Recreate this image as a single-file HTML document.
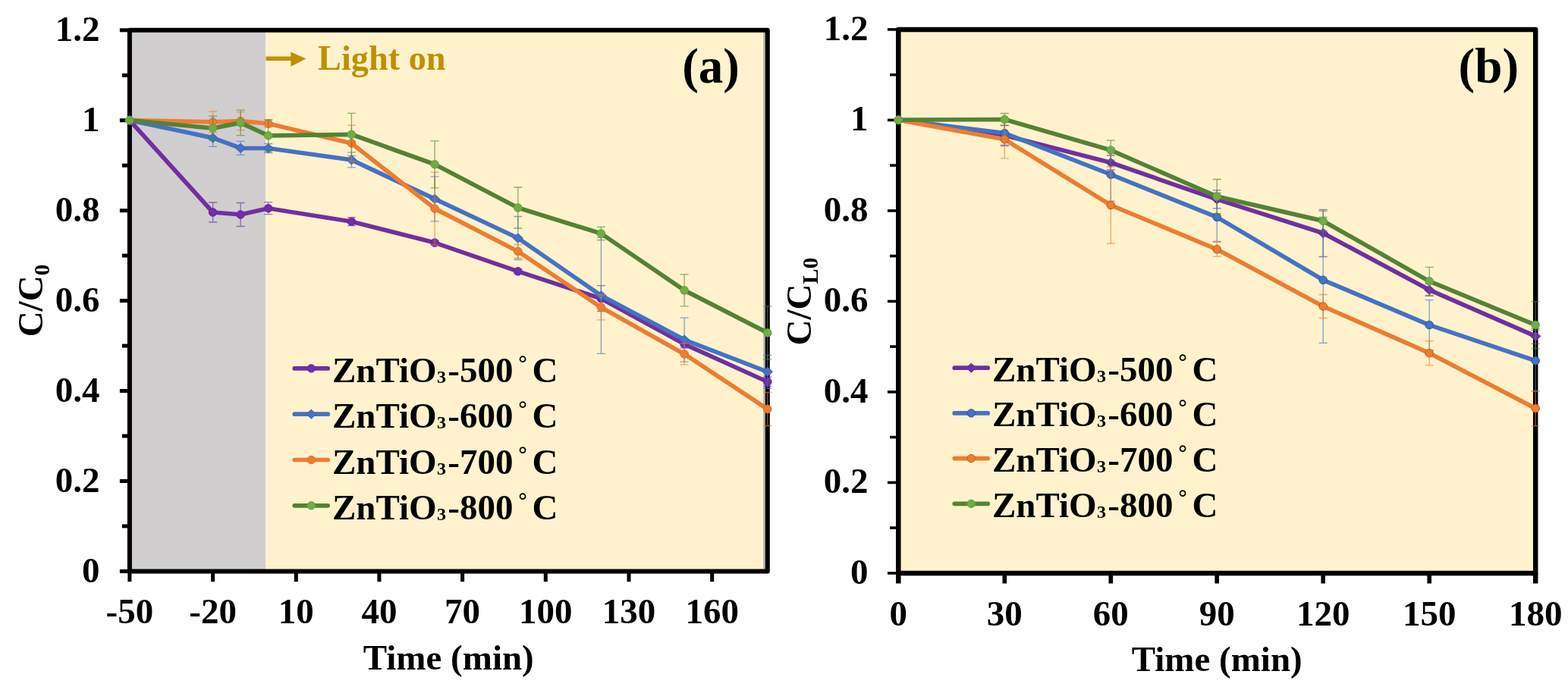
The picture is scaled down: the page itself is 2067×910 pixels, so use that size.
<!DOCTYPE html>
<html><head><meta charset="utf-8"><title>ZnTiO3 photocatalytic degradation</title>
<style>html,body{margin:0;padding:0;background:#fff;}body{width:2067px;height:910px;overflow:hidden;}svg{display:block;}text{font-family:"Liberation Serif", "Times New Roman", serif;font-weight:bold;}</style></head><body>
<svg width="2067" height="910" viewBox="0 0 2067 910">
<rect x="0" y="0" width="2067" height="910" fill="#ffffff"/>
<rect x="170.9" y="39.8" width="179.3" height="713.6" fill="#D0CECE"/>
<rect x="350.2" y="39.8" width="661.6" height="713.6" fill="#FFF2CC"/>
<rect x="1006.3" y="41.8" width="3.2" height="709.6" fill="#b2b2b2"/>
<path d="M350.5 77.3H386" stroke="#BF9000" stroke-width="5.6" fill="none"/>
<path d="M383.4 68.6L403.5 77.6L383.4 87.7Z" fill="#BF9000"/>
<text x="419" y="91.5" font-size="46.3" fill="#BF9000">Light on</text>
<text x="899.2" y="108.9" font-size="65" fill="#000">(a)</text>
<line x1="157.9" y1="753.4" x2="170.9" y2="753.4" stroke="#000" stroke-width="5.0"/>
<line x1="160.9" y1="693.9" x2="170.9" y2="693.9" stroke="#000" stroke-width="5.0"/>
<line x1="157.9" y1="634.5" x2="170.9" y2="634.5" stroke="#000" stroke-width="5.0"/>
<line x1="160.9" y1="575.0" x2="170.9" y2="575.0" stroke="#000" stroke-width="5.0"/>
<line x1="157.9" y1="515.5" x2="170.9" y2="515.5" stroke="#000" stroke-width="5.0"/>
<line x1="160.9" y1="456.1" x2="170.9" y2="456.1" stroke="#000" stroke-width="5.0"/>
<line x1="157.9" y1="396.6" x2="170.9" y2="396.6" stroke="#000" stroke-width="5.0"/>
<line x1="160.9" y1="337.1" x2="170.9" y2="337.1" stroke="#000" stroke-width="5.0"/>
<line x1="157.9" y1="277.7" x2="170.9" y2="277.7" stroke="#000" stroke-width="5.0"/>
<line x1="160.9" y1="218.2" x2="170.9" y2="218.2" stroke="#000" stroke-width="5.0"/>
<line x1="157.9" y1="158.7" x2="170.9" y2="158.7" stroke="#000" stroke-width="5.0"/>
<line x1="160.9" y1="99.3" x2="170.9" y2="99.3" stroke="#000" stroke-width="5.0"/>
<line x1="157.9" y1="39.8" x2="170.9" y2="39.8" stroke="#000" stroke-width="5.0"/>
<line x1="170.9" y1="753.4" x2="170.9" y2="767.2" stroke="#000" stroke-width="5.0"/>
<line x1="280.6" y1="753.4" x2="280.6" y2="767.2" stroke="#000" stroke-width="5.0"/>
<line x1="390.3" y1="753.4" x2="390.3" y2="767.2" stroke="#000" stroke-width="5.0"/>
<line x1="499.9" y1="753.4" x2="499.9" y2="767.2" stroke="#000" stroke-width="5.0"/>
<line x1="609.6" y1="753.4" x2="609.6" y2="767.2" stroke="#000" stroke-width="5.0"/>
<line x1="719.3" y1="753.4" x2="719.3" y2="767.2" stroke="#000" stroke-width="5.0"/>
<line x1="829.0" y1="753.4" x2="829.0" y2="767.2" stroke="#000" stroke-width="5.0"/>
<line x1="938.7" y1="753.4" x2="938.7" y2="767.2" stroke="#000" stroke-width="5.0"/>
<path d="M170.9 755.9V39.8H1011.8V753.4H168.4" fill="none" stroke="#000" stroke-width="6.0" stroke-linejoin="round"/>
<path d="M280.6 267.0V293.0M275.1 267.0h11M275.1 293.0h11" stroke="#7030A0" stroke-width="1.3" opacity="0.65" fill="none"/>
<path d="M317.1 267.5V298.5M311.6 267.5h11M311.6 298.5h11" stroke="#7030A0" stroke-width="1.3" opacity="0.65" fill="none"/>
<path d="M353.7 266.7V282.7M348.2 266.7h11M348.2 282.7h11" stroke="#7030A0" stroke-width="1.3" opacity="0.65" fill="none"/>
<path d="M463.4 286.7V297.7M457.9 286.7h11M457.9 297.7h11" stroke="#7030A0" stroke-width="1.3" opacity="0.65" fill="none"/>
<path d="M573.1 317.1V323.1M567.6 317.1h11M567.6 323.1h11" stroke="#7030A0" stroke-width="1.3" opacity="0.65" fill="none"/>
<path d="M682.8 354.9V360.9M677.3 354.9h11M677.3 360.9h11" stroke="#7030A0" stroke-width="1.3" opacity="0.65" fill="none"/>
<path d="M792.4 376.7V410.7M786.9 376.7h11M786.9 410.7h11" stroke="#7030A0" stroke-width="1.3" opacity="0.65" fill="none"/>
<path d="M902.1 448.8V458.8M896.6 448.8h11M896.6 458.8h11" stroke="#7030A0" stroke-width="1.3" opacity="0.65" fill="none"/>
<path d="M1011.8 497.5V509.5M1006.3 497.5h11M1006.3 509.5h11" stroke="#7030A0" stroke-width="1.3" opacity="0.65" fill="none"/>
<polyline points="170.9,158.6 280.6,280.0 317.1,283.0 353.7,274.7 463.4,292.2 573.1,320.1 682.8,357.9 792.4,393.7 902.1,453.8 1011.8,503.5" fill="none" stroke="#7030A0" stroke-width="5.7" stroke-linejoin="round" stroke-linecap="round"/>
<circle cx="170.9" cy="158.6" r="5.3" fill="#7030A0" stroke="#6a1fc8" stroke-width="1"/>
<circle cx="280.6" cy="280.0" r="5.3" fill="#7030A0" stroke="#6a1fc8" stroke-width="1"/>
<circle cx="317.1" cy="283.0" r="5.3" fill="#7030A0" stroke="#6a1fc8" stroke-width="1"/>
<circle cx="353.7" cy="274.7" r="5.3" fill="#7030A0" stroke="#6a1fc8" stroke-width="1"/>
<circle cx="463.4" cy="292.2" r="5.3" fill="#7030A0" stroke="#6a1fc8" stroke-width="1"/>
<circle cx="573.1" cy="320.1" r="5.3" fill="#7030A0" stroke="#6a1fc8" stroke-width="1"/>
<circle cx="682.8" cy="357.9" r="5.3" fill="#7030A0" stroke="#6a1fc8" stroke-width="1"/>
<circle cx="792.4" cy="393.7" r="5.3" fill="#7030A0" stroke="#6a1fc8" stroke-width="1"/>
<circle cx="902.1" cy="453.8" r="5.3" fill="#7030A0" stroke="#6a1fc8" stroke-width="1"/>
<circle cx="1011.8" cy="503.5" r="5.3" fill="#7030A0" stroke="#6a1fc8" stroke-width="1"/>
<path d="M280.6 170.4V193.4M275.1 170.4h11M275.1 193.4h11" stroke="#4472C4" stroke-width="1.3" opacity="0.65" fill="none"/>
<path d="M317.1 186.3V204.3M311.6 186.3h11M311.6 204.3h11" stroke="#4472C4" stroke-width="1.3" opacity="0.65" fill="none"/>
<path d="M353.7 189.5V201.5M348.2 189.5h11M348.2 201.5h11" stroke="#4472C4" stroke-width="1.3" opacity="0.65" fill="none"/>
<path d="M463.4 200.9V220.9M457.9 200.9h11M457.9 220.9h11" stroke="#4472C4" stroke-width="1.3" opacity="0.65" fill="none"/>
<path d="M573.1 232.8V291.8M567.6 232.8h11M567.6 291.8h11" stroke="#4472C4" stroke-width="1.3" opacity="0.65" fill="none"/>
<path d="M682.8 285.5V342.5M677.3 285.5h11M677.3 342.5h11" stroke="#4472C4" stroke-width="1.3" opacity="0.65" fill="none"/>
<path d="M792.4 313.3V466.3M786.9 313.3h11M786.9 466.3h11" stroke="#4472C4" stroke-width="1.3" opacity="0.65" fill="none"/>
<path d="M902.1 419.1V477.1M896.6 419.1h11M896.6 477.1h11" stroke="#4472C4" stroke-width="1.3" opacity="0.65" fill="none"/>
<path d="M1011.8 468.3V512.3M1006.3 468.3h11M1006.3 512.3h11" stroke="#4472C4" stroke-width="1.3" opacity="0.65" fill="none"/>
<polyline points="170.9,158.6 280.6,181.9 317.1,195.3 353.7,195.5 463.4,210.9 573.1,262.3 682.8,314.0 792.4,389.8 902.1,448.1 1011.8,490.3" fill="none" stroke="#4472C4" stroke-width="5.7" stroke-linejoin="round" stroke-linecap="round"/>
<path d="M164.3 158.6L170.9 152.5L177.5 158.6L170.9 164.7Z" fill="#4472C4" stroke="#3560b0" stroke-width="1"/>
<path d="M274.0 181.9L280.6 175.8L287.2 181.9L280.6 188.0Z" fill="#4472C4" stroke="#3560b0" stroke-width="1"/>
<path d="M310.5 195.3L317.1 189.2L323.8 195.3L317.1 201.4Z" fill="#4472C4" stroke="#3560b0" stroke-width="1"/>
<path d="M347.1 195.5L353.7 189.4L360.3 195.5L353.7 201.6Z" fill="#4472C4" stroke="#3560b0" stroke-width="1"/>
<path d="M456.8 210.9L463.4 204.8L470.0 210.9L463.4 217.0Z" fill="#4472C4" stroke="#3560b0" stroke-width="1"/>
<path d="M566.4 262.3L573.1 256.2L579.7 262.3L573.1 268.4Z" fill="#4472C4" stroke="#3560b0" stroke-width="1"/>
<path d="M676.1 314.0L682.8 307.9L689.4 314.0L682.8 320.1Z" fill="#4472C4" stroke="#3560b0" stroke-width="1"/>
<path d="M785.8 389.8L792.4 383.7L799.1 389.8L792.4 395.9Z" fill="#4472C4" stroke="#3560b0" stroke-width="1"/>
<path d="M895.5 448.1L902.1 442.0L908.7 448.1L902.1 454.2Z" fill="#4472C4" stroke="#3560b0" stroke-width="1"/>
<path d="M1005.2 490.3L1011.8 484.2L1018.4 490.3L1011.8 496.4Z" fill="#4472C4" stroke="#3560b0" stroke-width="1"/>
<path d="M280.6 146.8V174.8M275.1 146.8h11M275.1 174.8h11" stroke="#ED7D31" stroke-width="1.3" opacity="0.65" fill="none"/>
<path d="M317.1 147.7V171.7M311.6 147.7h11M311.6 171.7h11" stroke="#ED7D31" stroke-width="1.3" opacity="0.65" fill="none"/>
<path d="M353.7 158.0V168.0M348.2 158.0h11M348.2 168.0h11" stroke="#ED7D31" stroke-width="1.3" opacity="0.65" fill="none"/>
<path d="M463.4 165.2V212.6M457.9 165.2h11M457.9 212.6h11" stroke="#ED7D31" stroke-width="1.3" opacity="0.65" fill="none"/>
<path d="M573.1 227.1V323.1M567.6 227.1h11M567.6 323.1h11" stroke="#ED7D31" stroke-width="1.3" opacity="0.65" fill="none"/>
<path d="M682.8 322.5V340.5M677.3 322.5h11M677.3 340.5h11" stroke="#ED7D31" stroke-width="1.3" opacity="0.65" fill="none"/>
<path d="M792.4 388.8V421.8M786.9 388.8h11M786.9 421.8h11" stroke="#ED7D31" stroke-width="1.3" opacity="0.65" fill="none"/>
<path d="M902.1 452.9V480.9M896.6 452.9h11M896.6 480.9h11" stroke="#ED7D31" stroke-width="1.3" opacity="0.65" fill="none"/>
<path d="M1011.8 517.5V561.5M1006.3 517.5h11M1006.3 561.5h11" stroke="#ED7D31" stroke-width="1.3" opacity="0.65" fill="none"/>
<polyline points="170.9,158.6 280.6,160.8 317.1,159.7 353.7,163.0 463.4,188.9 573.1,275.1 682.8,331.5 792.4,405.3 902.1,466.9 1011.8,539.5" fill="none" stroke="#ED7D31" stroke-width="5.7" stroke-linejoin="round" stroke-linecap="round"/>
<circle cx="170.9" cy="158.6" r="5.3" fill="#ED7D31" stroke="#e07020" stroke-width="1"/>
<circle cx="280.6" cy="160.8" r="5.3" fill="#ED7D31" stroke="#e07020" stroke-width="1"/>
<circle cx="317.1" cy="159.7" r="5.3" fill="#ED7D31" stroke="#e07020" stroke-width="1"/>
<circle cx="353.7" cy="163.0" r="5.3" fill="#ED7D31" stroke="#e07020" stroke-width="1"/>
<circle cx="463.4" cy="188.9" r="5.3" fill="#ED7D31" stroke="#e07020" stroke-width="1"/>
<circle cx="573.1" cy="275.1" r="5.3" fill="#ED7D31" stroke="#e07020" stroke-width="1"/>
<circle cx="682.8" cy="331.5" r="5.3" fill="#ED7D31" stroke="#e07020" stroke-width="1"/>
<circle cx="792.4" cy="405.3" r="5.3" fill="#ED7D31" stroke="#e07020" stroke-width="1"/>
<circle cx="902.1" cy="466.9" r="5.3" fill="#ED7D31" stroke="#e07020" stroke-width="1"/>
<circle cx="1011.8" cy="539.5" r="5.3" fill="#ED7D31" stroke="#e07020" stroke-width="1"/>
<path d="M280.6 153.1V185.1M275.1 153.1h11M275.1 185.1h11" stroke="#548235" stroke-width="1.3" opacity="0.65" fill="none"/>
<path d="M317.1 145.2V178.6M311.6 145.2h11M311.6 178.6h11" stroke="#548235" stroke-width="1.3" opacity="0.65" fill="none"/>
<path d="M353.7 157.8V199.8M348.2 157.8h11M348.2 199.8h11" stroke="#548235" stroke-width="1.3" opacity="0.65" fill="none"/>
<path d="M463.4 149.3V205.3M457.9 149.3h11M457.9 205.3h11" stroke="#548235" stroke-width="1.3" opacity="0.65" fill="none"/>
<path d="M573.1 185.8V247.8M567.6 185.8h11M567.6 247.8h11" stroke="#548235" stroke-width="1.3" opacity="0.65" fill="none"/>
<path d="M682.8 247.0V301.0M677.3 247.0h11M677.3 301.0h11" stroke="#548235" stroke-width="1.3" opacity="0.65" fill="none"/>
<path d="M792.4 299.3V316.7M786.9 299.3h11M786.9 316.7h11" stroke="#548235" stroke-width="1.3" opacity="0.65" fill="none"/>
<path d="M902.1 361.9V403.9M896.6 361.9h11M896.6 403.9h11" stroke="#548235" stroke-width="1.3" opacity="0.65" fill="none"/>
<path d="M1011.8 403.9V473.9M1006.3 403.9h11M1006.3 473.9h11" stroke="#548235" stroke-width="1.3" opacity="0.65" fill="none"/>
<polyline points="170.9,158.6 280.6,169.1 317.1,161.9 353.7,178.8 463.4,177.3 573.1,216.8 682.8,274.0 792.4,308.0 902.1,382.9 1011.8,438.9" fill="none" stroke="#548235" stroke-width="5.7" stroke-linejoin="round" stroke-linecap="round"/>
<circle cx="170.9" cy="158.6" r="5.3" fill="#70AD47" stroke="#62a040" stroke-width="1"/>
<circle cx="280.6" cy="169.1" r="5.3" fill="#70AD47" stroke="#62a040" stroke-width="1"/>
<circle cx="317.1" cy="161.9" r="5.3" fill="#70AD47" stroke="#62a040" stroke-width="1"/>
<circle cx="353.7" cy="178.8" r="5.3" fill="#70AD47" stroke="#62a040" stroke-width="1"/>
<circle cx="463.4" cy="177.3" r="5.3" fill="#70AD47" stroke="#62a040" stroke-width="1"/>
<circle cx="573.1" cy="216.8" r="5.3" fill="#70AD47" stroke="#62a040" stroke-width="1"/>
<circle cx="682.8" cy="274.0" r="5.3" fill="#70AD47" stroke="#62a040" stroke-width="1"/>
<circle cx="792.4" cy="308.0" r="5.3" fill="#70AD47" stroke="#62a040" stroke-width="1"/>
<circle cx="902.1" cy="382.9" r="5.3" fill="#70AD47" stroke="#62a040" stroke-width="1"/>
<circle cx="1011.8" cy="438.9" r="5.3" fill="#70AD47" stroke="#62a040" stroke-width="1"/>
<text x="131.5" y="767.8" font-size="47" text-anchor="end">0</text>
<text x="131.5" y="648.9" font-size="47" text-anchor="end">0.2</text>
<text x="131.5" y="529.9" font-size="47" text-anchor="end">0.4</text>
<text x="131.5" y="411.0" font-size="47" text-anchor="end">0.6</text>
<text x="131.5" y="292.1" font-size="47" text-anchor="end">0.8</text>
<text x="131.5" y="173.1" font-size="47" text-anchor="end">1</text>
<text x="131.5" y="54.2" font-size="47" text-anchor="end">1.2</text>
<text x="170.9" y="822" font-size="47" text-anchor="middle">-50</text>
<text x="280.6" y="822" font-size="47" text-anchor="middle">-20</text>
<text x="390.3" y="822" font-size="47" text-anchor="middle">10</text>
<text x="499.9" y="822" font-size="47" text-anchor="middle">40</text>
<text x="609.6" y="822" font-size="47" text-anchor="middle">70</text>
<text x="719.3" y="822" font-size="47" text-anchor="middle">100</text>
<text x="829.0" y="822" font-size="47" text-anchor="middle">130</text>
<text x="938.7" y="822" font-size="47" text-anchor="middle">160</text>
<text x="591.3" y="883" font-size="47" text-anchor="middle">Time (min)</text>
<text transform="translate(56.2 396.4) rotate(-90)" font-size="47" text-anchor="middle">C/C<tspan font-size="30" dy="9">0</tspan></text>
<line x1="388.3" y1="485.9" x2="432.2" y2="485.9" stroke="#7030A0" stroke-width="5.7" stroke-linecap="round"/>
<circle cx="410.3" cy="485.9" r="5.2" fill="#7030A0" stroke="#6a1fc8" stroke-width="1"/>
<text y="503.9" font-size="47"><tspan x="438.0">ZnTiO</tspan><tspan x="576.1" font-size="24" y="505.0">3</tspan><tspan x="590.3" y="503.9">-500</tspan><tspan x="681.7" y="500.6" font-size="44" font-weight="normal">˚</tspan><tspan x="701.5" y="503.9">C</tspan></text>
<line x1="388.3" y1="546.2" x2="432.2" y2="546.2" stroke="#4472C4" stroke-width="5.7" stroke-linecap="round"/>
<path d="M403.8 546.2L410.3 540.2L416.8 546.2L410.3 552.2Z" fill="#4472C4" stroke="#3560b0" stroke-width="1"/>
<text y="564.2" font-size="47"><tspan x="438.0">ZnTiO</tspan><tspan x="576.1" font-size="24" y="565.3">3</tspan><tspan x="590.3" y="564.2">-600</tspan><tspan x="681.7" y="560.9" font-size="44" font-weight="normal">˚</tspan><tspan x="701.5" y="564.2">C</tspan></text>
<line x1="388.3" y1="606.5" x2="432.2" y2="606.5" stroke="#ED7D31" stroke-width="5.7" stroke-linecap="round"/>
<circle cx="410.3" cy="606.5" r="5.2" fill="#ED7D31" stroke="#e07020" stroke-width="1"/>
<text y="624.5" font-size="47"><tspan x="438.0">ZnTiO</tspan><tspan x="576.1" font-size="24" y="625.6">3</tspan><tspan x="590.3" y="624.5">-700</tspan><tspan x="681.7" y="621.2" font-size="44" font-weight="normal">˚</tspan><tspan x="701.5" y="624.5">C</tspan></text>
<line x1="388.3" y1="666.8" x2="432.2" y2="666.8" stroke="#548235" stroke-width="5.7" stroke-linecap="round"/>
<circle cx="410.3" cy="666.8" r="5.2" fill="#70AD47" stroke="#62a040" stroke-width="1"/>
<text y="684.8" font-size="47"><tspan x="438.0">ZnTiO</tspan><tspan x="576.1" font-size="24" y="685.9">3</tspan><tspan x="590.3" y="684.8">-800</tspan><tspan x="681.7" y="681.5" font-size="44" font-weight="normal">˚</tspan><tspan x="701.5" y="684.8">C</tspan></text>
<rect x="1184.3" y="38.9" width="839.9" height="717.0" fill="#FFF2CC"/>
<text x="1922.6" y="108.9" font-size="65" fill="#000">(b)</text>
<line x1="1170.0" y1="755.9" x2="1184.3" y2="755.9" stroke="#000" stroke-width="3.6"/>
<line x1="1173.0" y1="696.1" x2="1184.3" y2="696.1" stroke="#000" stroke-width="3.6"/>
<line x1="1170.0" y1="636.4" x2="1184.3" y2="636.4" stroke="#000" stroke-width="3.6"/>
<line x1="1173.0" y1="576.6" x2="1184.3" y2="576.6" stroke="#000" stroke-width="3.6"/>
<line x1="1170.0" y1="516.9" x2="1184.3" y2="516.9" stroke="#000" stroke-width="3.6"/>
<line x1="1173.0" y1="457.1" x2="1184.3" y2="457.1" stroke="#000" stroke-width="3.6"/>
<line x1="1170.0" y1="397.4" x2="1184.3" y2="397.4" stroke="#000" stroke-width="3.6"/>
<line x1="1173.0" y1="337.6" x2="1184.3" y2="337.6" stroke="#000" stroke-width="3.6"/>
<line x1="1170.0" y1="277.9" x2="1184.3" y2="277.9" stroke="#000" stroke-width="3.6"/>
<line x1="1173.0" y1="218.1" x2="1184.3" y2="218.1" stroke="#000" stroke-width="3.6"/>
<line x1="1170.0" y1="158.4" x2="1184.3" y2="158.4" stroke="#000" stroke-width="3.6"/>
<line x1="1173.0" y1="98.6" x2="1184.3" y2="98.6" stroke="#000" stroke-width="3.6"/>
<line x1="1170.0" y1="38.9" x2="1184.3" y2="38.9" stroke="#000" stroke-width="3.6"/>
<line x1="1184.3" y1="755.9" x2="1184.3" y2="769.5" stroke="#000" stroke-width="6.5"/>
<line x1="1324.3" y1="755.9" x2="1324.3" y2="769.5" stroke="#000" stroke-width="5.6"/>
<line x1="1464.3" y1="755.9" x2="1464.3" y2="769.5" stroke="#000" stroke-width="5.6"/>
<line x1="1604.2" y1="755.9" x2="1604.2" y2="769.5" stroke="#000" stroke-width="5.6"/>
<line x1="1744.2" y1="755.9" x2="1744.2" y2="769.5" stroke="#000" stroke-width="5.6"/>
<line x1="1884.2" y1="755.9" x2="1884.2" y2="769.5" stroke="#000" stroke-width="5.6"/>
<line x1="2024.2" y1="755.9" x2="2024.2" y2="769.5" stroke="#000" stroke-width="6.5"/>
<path d="M1184.3 757.9V38.9H2024.2V755.9H1182.3" fill="none" stroke="#000" stroke-width="6.5" stroke-linejoin="round"/>
<path d="M1324.3 165.4V191.4M1318.8 165.4h11M1318.8 191.4h11" stroke="#7030A0" stroke-width="1.3" opacity="0.65" fill="none"/>
<path d="M1464.3 205.0V224.0M1458.8 205.0h11M1458.8 224.0h11" stroke="#7030A0" stroke-width="1.3" opacity="0.65" fill="none"/>
<path d="M1604.2 250.9V274.9M1598.8 250.9h11M1598.8 274.9h11" stroke="#7030A0" stroke-width="1.3" opacity="0.65" fill="none"/>
<path d="M1744.2 276.5V338.5M1738.7 276.5h11M1738.7 338.5h11" stroke="#7030A0" stroke-width="1.3" opacity="0.65" fill="none"/>
<path d="M1884.2 374.3V390.3M1878.7 374.3h11M1878.7 390.3h11" stroke="#7030A0" stroke-width="1.3" opacity="0.65" fill="none"/>
<path d="M2024.2 433.4V453.4M2018.7 433.4h11M2018.7 453.4h11" stroke="#7030A0" stroke-width="1.3" opacity="0.65" fill="none"/>
<polyline points="1184.3,158.2 1324.3,178.4 1464.3,214.5 1604.2,262.9 1744.2,307.5 1884.2,382.3 2024.2,443.4" fill="none" stroke="#7030A0" stroke-width="5.7" stroke-linejoin="round" stroke-linecap="round"/>
<path d="M1177.7 158.2L1184.3 152.1L1190.9 158.2L1184.3 164.3Z" fill="#7030A0" stroke="#6a1fc8" stroke-width="1"/>
<path d="M1317.7 178.4L1324.3 172.3L1330.9 178.4L1324.3 184.5Z" fill="#7030A0" stroke="#6a1fc8" stroke-width="1"/>
<path d="M1457.6 214.5L1464.3 208.4L1470.9 214.5L1464.3 220.6Z" fill="#7030A0" stroke="#6a1fc8" stroke-width="1"/>
<path d="M1597.6 262.9L1604.2 256.8L1610.9 262.9L1604.2 269.0Z" fill="#7030A0" stroke="#6a1fc8" stroke-width="1"/>
<path d="M1737.6 307.5L1744.2 301.4L1750.9 307.5L1744.2 313.6Z" fill="#7030A0" stroke="#6a1fc8" stroke-width="1"/>
<path d="M1877.6 382.3L1884.2 376.2L1890.8 382.3L1884.2 388.4Z" fill="#7030A0" stroke="#6a1fc8" stroke-width="1"/>
<path d="M2017.6 443.4L2024.2 437.3L2030.8 443.4L2024.2 449.5Z" fill="#7030A0" stroke="#6a1fc8" stroke-width="1"/>
<path d="M1324.3 158.7V192.7M1318.8 158.7h11M1318.8 192.7h11" stroke="#4472C4" stroke-width="1.3" opacity="0.65" fill="none"/>
<path d="M1464.3 195.2V265.2M1458.8 195.2h11M1458.8 265.2h11" stroke="#4472C4" stroke-width="1.3" opacity="0.65" fill="none"/>
<path d="M1604.2 254.4V318.4M1598.8 254.4h11M1598.8 318.4h11" stroke="#4472C4" stroke-width="1.3" opacity="0.65" fill="none"/>
<path d="M1744.2 286.3V452.3M1738.7 286.3h11M1738.7 452.3h11" stroke="#4472C4" stroke-width="1.3" opacity="0.65" fill="none"/>
<path d="M1884.2 395.6V461.6M1878.7 395.6h11M1878.7 461.6h11" stroke="#4472C4" stroke-width="1.3" opacity="0.65" fill="none"/>
<path d="M2024.2 435.7V515.7M2018.7 435.7h11M2018.7 515.7h11" stroke="#4472C4" stroke-width="1.3" opacity="0.65" fill="none"/>
<polyline points="1184.3,158.2 1324.3,175.7 1464.3,230.2 1604.2,286.4 1744.2,369.3 1884.2,428.6 2024.2,475.7" fill="none" stroke="#4472C4" stroke-width="5.7" stroke-linejoin="round" stroke-linecap="round"/>
<circle cx="1184.3" cy="158.2" r="5.3" fill="#4472C4" stroke="#2f5597" stroke-width="1"/>
<circle cx="1324.3" cy="175.7" r="5.3" fill="#4472C4" stroke="#2f5597" stroke-width="1"/>
<circle cx="1464.3" cy="230.2" r="5.3" fill="#4472C4" stroke="#2f5597" stroke-width="1"/>
<circle cx="1604.2" cy="286.4" r="5.3" fill="#4472C4" stroke="#2f5597" stroke-width="1"/>
<circle cx="1744.2" cy="369.3" r="5.3" fill="#4472C4" stroke="#2f5597" stroke-width="1"/>
<circle cx="1884.2" cy="428.6" r="5.3" fill="#4472C4" stroke="#2f5597" stroke-width="1"/>
<circle cx="2024.2" cy="475.7" r="5.3" fill="#4472C4" stroke="#2f5597" stroke-width="1"/>
<path d="M1324.3 158.8V208.8M1318.8 158.8h11M1318.8 208.8h11" stroke="#ED7D31" stroke-width="1.3" opacity="0.65" fill="none"/>
<path d="M1464.3 220.0V321.2M1458.8 220.0h11M1458.8 321.2h11" stroke="#ED7D31" stroke-width="1.3" opacity="0.65" fill="none"/>
<path d="M1604.2 319.3V338.3M1598.8 319.3h11M1598.8 338.3h11" stroke="#ED7D31" stroke-width="1.3" opacity="0.65" fill="none"/>
<path d="M1744.2 388.5V419.5M1738.7 388.5h11M1738.7 419.5h11" stroke="#ED7D31" stroke-width="1.3" opacity="0.65" fill="none"/>
<path d="M1884.2 449.7V481.7M1878.7 449.7h11M1878.7 481.7h11" stroke="#ED7D31" stroke-width="1.3" opacity="0.65" fill="none"/>
<path d="M2024.2 515.6V561.6M2018.7 515.6h11M2018.7 561.6h11" stroke="#ED7D31" stroke-width="1.3" opacity="0.65" fill="none"/>
<polyline points="1184.3,158.2 1324.3,183.8 1464.3,270.6 1604.2,328.8 1744.2,404.0 1884.2,465.7 2024.2,538.6" fill="none" stroke="#ED7D31" stroke-width="5.7" stroke-linejoin="round" stroke-linecap="round"/>
<circle cx="1184.3" cy="158.2" r="5.3" fill="#ED7D31" stroke="#c55a11" stroke-width="1"/>
<circle cx="1324.3" cy="183.8" r="5.3" fill="#ED7D31" stroke="#c55a11" stroke-width="1"/>
<circle cx="1464.3" cy="270.6" r="5.3" fill="#ED7D31" stroke="#c55a11" stroke-width="1"/>
<circle cx="1604.2" cy="328.8" r="5.3" fill="#ED7D31" stroke="#c55a11" stroke-width="1"/>
<circle cx="1744.2" cy="404.0" r="5.3" fill="#ED7D31" stroke="#c55a11" stroke-width="1"/>
<circle cx="1884.2" cy="465.7" r="5.3" fill="#ED7D31" stroke="#c55a11" stroke-width="1"/>
<circle cx="2024.2" cy="538.6" r="5.3" fill="#ED7D31" stroke="#c55a11" stroke-width="1"/>
<path d="M1324.3 149.5V165.5M1318.8 149.5h11M1318.8 165.5h11" stroke="#548235" stroke-width="1.3" opacity="0.65" fill="none"/>
<path d="M1464.3 185.1V211.1M1458.8 185.1h11M1458.8 211.1h11" stroke="#548235" stroke-width="1.3" opacity="0.65" fill="none"/>
<path d="M1604.2 236.5V281.7M1598.8 236.5h11M1598.8 281.7h11" stroke="#548235" stroke-width="1.3" opacity="0.65" fill="none"/>
<path d="M1744.2 278.4V304.4M1738.7 278.4h11M1738.7 304.4h11" stroke="#548235" stroke-width="1.3" opacity="0.65" fill="none"/>
<path d="M1884.2 352.3V389.5M1878.7 352.3h11M1878.7 389.5h11" stroke="#548235" stroke-width="1.3" opacity="0.65" fill="none"/>
<path d="M2024.2 397.6V459.6M2018.7 397.6h11M2018.7 459.6h11" stroke="#548235" stroke-width="1.3" opacity="0.65" fill="none"/>
<polyline points="1184.3,158.2 1324.3,157.5 1464.3,198.1 1604.2,259.1 1744.2,291.4 1884.2,370.9 2024.2,428.6" fill="none" stroke="#548235" stroke-width="5.7" stroke-linejoin="round" stroke-linecap="round"/>
<circle cx="1184.3" cy="158.2" r="5.3" fill="#70AD47" stroke="#62a040" stroke-width="1"/>
<circle cx="1324.3" cy="157.5" r="5.3" fill="#70AD47" stroke="#62a040" stroke-width="1"/>
<circle cx="1464.3" cy="198.1" r="5.3" fill="#70AD47" stroke="#62a040" stroke-width="1"/>
<circle cx="1604.2" cy="259.1" r="5.3" fill="#70AD47" stroke="#62a040" stroke-width="1"/>
<circle cx="1744.2" cy="291.4" r="5.3" fill="#70AD47" stroke="#62a040" stroke-width="1"/>
<circle cx="1884.2" cy="370.9" r="5.3" fill="#70AD47" stroke="#62a040" stroke-width="1"/>
<circle cx="2024.2" cy="428.6" r="5.3" fill="#70AD47" stroke="#62a040" stroke-width="1"/>
<text x="1144.6" y="769.7" font-size="47" text-anchor="end">0</text>
<text x="1144.6" y="650.2" font-size="47" text-anchor="end">0.2</text>
<text x="1144.6" y="530.7" font-size="47" text-anchor="end">0.4</text>
<text x="1144.6" y="411.2" font-size="47" text-anchor="end">0.6</text>
<text x="1144.6" y="291.7" font-size="47" text-anchor="end">0.8</text>
<text x="1144.6" y="172.2" font-size="47" text-anchor="end">1</text>
<text x="1144.6" y="52.7" font-size="47" text-anchor="end">1.2</text>
<text x="1184.3" y="824.5" font-size="47" text-anchor="middle">0</text>
<text x="1324.3" y="824.5" font-size="47" text-anchor="middle">30</text>
<text x="1464.3" y="824.5" font-size="47" text-anchor="middle">60</text>
<text x="1604.2" y="824.5" font-size="47" text-anchor="middle">90</text>
<text x="1744.2" y="824.5" font-size="47" text-anchor="middle">120</text>
<text x="1884.2" y="824.5" font-size="47" text-anchor="middle">150</text>
<text x="2024.2" y="824.5" font-size="47" text-anchor="middle">180</text>
<text x="1604.2" y="885" font-size="47" text-anchor="middle">Time (min)</text>
<text transform="translate(1068.6 397.5) rotate(-90)" font-size="47" text-anchor="middle">C/C<tspan font-size="30" dy="9">L0</tspan></text>
<line x1="1258.3" y1="485.2" x2="1302.2" y2="485.2" stroke="#7030A0" stroke-width="5.7" stroke-linecap="round"/>
<path d="M1273.8 485.2L1280.3 479.2L1286.8 485.2L1280.3 491.2Z" fill="#7030A0" stroke="#6a1fc8" stroke-width="1"/>
<text y="502.6" font-size="47"><tspan x="1308.0">ZnTiO</tspan><tspan x="1446.1" font-size="24" y="503.7">3</tspan><tspan x="1460.3" y="502.6">-500</tspan><tspan x="1551.7" y="499.3" font-size="44" font-weight="normal">˚</tspan><tspan x="1571.5" y="502.6">C</tspan></text>
<line x1="1258.3" y1="544.9" x2="1302.2" y2="544.9" stroke="#4472C4" stroke-width="5.7" stroke-linecap="round"/>
<circle cx="1280.3" cy="544.9" r="5.2" fill="#4472C4" stroke="#2f5597" stroke-width="1"/>
<text y="562.3" font-size="47"><tspan x="1308.0">ZnTiO</tspan><tspan x="1446.1" font-size="24" y="563.4">3</tspan><tspan x="1460.3" y="562.3">-600</tspan><tspan x="1551.7" y="559.0" font-size="44" font-weight="normal">˚</tspan><tspan x="1571.5" y="562.3">C</tspan></text>
<line x1="1258.3" y1="604.6" x2="1302.2" y2="604.6" stroke="#ED7D31" stroke-width="5.7" stroke-linecap="round"/>
<circle cx="1280.3" cy="604.6" r="5.2" fill="#ED7D31" stroke="#c55a11" stroke-width="1"/>
<text y="622.0" font-size="47"><tspan x="1308.0">ZnTiO</tspan><tspan x="1446.1" font-size="24" y="623.1">3</tspan><tspan x="1460.3" y="622.0">-700</tspan><tspan x="1551.7" y="618.7" font-size="44" font-weight="normal">˚</tspan><tspan x="1571.5" y="622.0">C</tspan></text>
<line x1="1258.3" y1="664.3" x2="1302.2" y2="664.3" stroke="#548235" stroke-width="5.7" stroke-linecap="round"/>
<circle cx="1280.3" cy="664.3" r="5.2" fill="#70AD47" stroke="#62a040" stroke-width="1"/>
<text y="681.7" font-size="47"><tspan x="1308.0">ZnTiO</tspan><tspan x="1446.1" font-size="24" y="682.8">3</tspan><tspan x="1460.3" y="681.7">-800</tspan><tspan x="1551.7" y="678.4" font-size="44" font-weight="normal">˚</tspan><tspan x="1571.5" y="681.7">C</tspan></text>
</svg></body></html>
